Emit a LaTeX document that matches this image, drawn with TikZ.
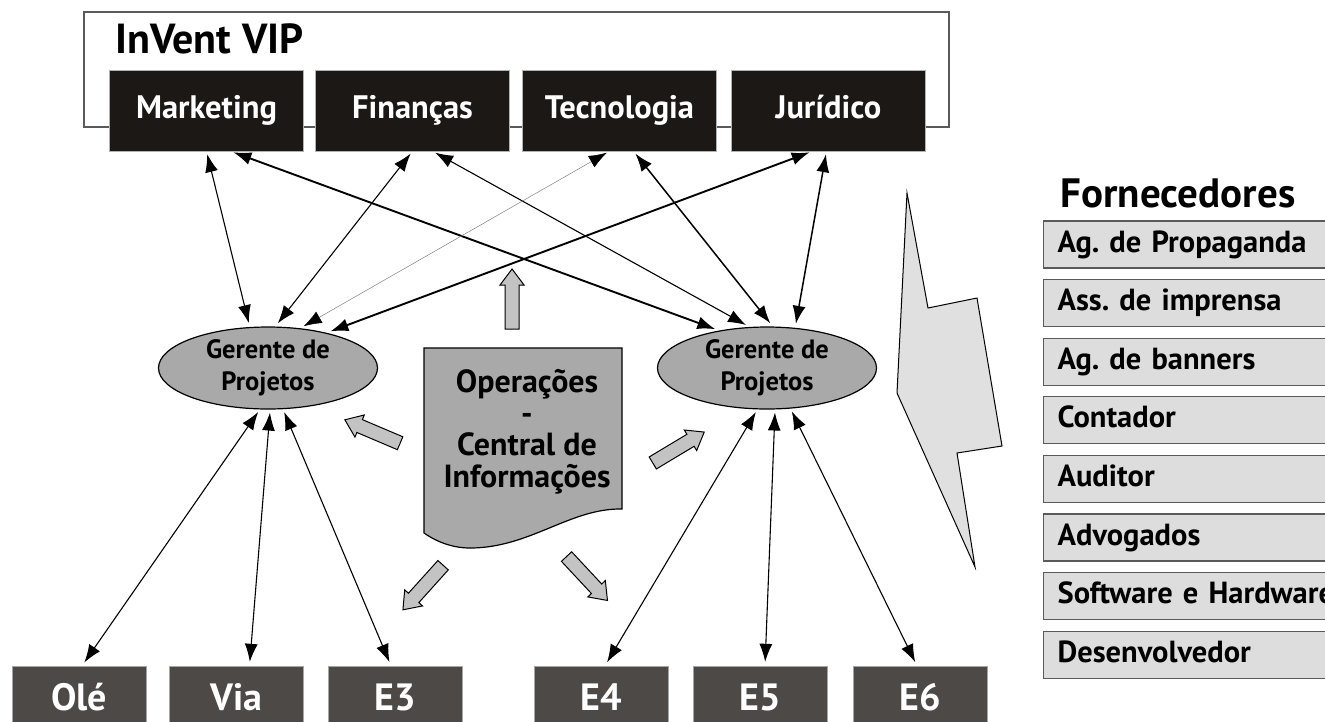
\documentclass[tikz,border=0pt]{standalone}
\usepackage{fontspec}
\setmainfont{PT Sans}
\usetikzlibrary{arrows.meta,positioning,calc,shapes.geometric}

\definecolor{areablack}{HTML}{1C1816}
\definecolor{empdark}{HTML}{4D4947}
\definecolor{gergray}{HTML}{A9A9A9}
\definecolor{blkgray}{HTML}{C3C3C3}
\definecolor{boltgray}{HTML}{E0E0E0}
\definecolor{supgray}{HTML}{DDDDDD}
\definecolor{edgegray}{HTML}{5A5A5A}

\newcommand{\fsz}[2]{\fontsize{#1}{#2}\selectfont\bfseries}
\frenchspacing

\begin{document}
\begin{tikzpicture}[x=1pt,y=-1pt,>={Latex[length=18pt,width=13pt]},
  area/.style={draw=gray!60,fill=areablack,text=white,minimum width=194pt,minimum height=81pt,
    inner sep=0pt,font=\fsz{32.5}{38},text height=22pt,text depth=6pt},
  gerente/.style={ellipse,draw,line width=1.2pt,fill=gergray,minimum width=219pt,minimum height=82pt,
    inner sep=0pt,align=center,font=\fsz{26.5}{32}},
  supplier/.style={draw=edgegray,line width=1.2pt,fill=supgray,anchor=west,minimum height=47pt,
    text width=330pt,inner xsep=14pt,inner ysep=0pt,font=\fsz{30.5}{36},text height=21pt,text depth=6pt},
  emp/.style={draw=gray!70,fill=empdark,text=white,minimum width=134pt,minimum height=61pt,
    inner sep=0pt,font=\fsz{38}{44},text height=27pt,text depth=0pt},
  link/.style={<->,line width=1.1pt,shorten <=3pt,shorten >=4pt},
  linkmid/.style={link,line width=1.5pt},
  linkthick/.style={link,line width=1.9pt},
  linkfaint/.style={{Latex[length=18pt,width=13pt,black]}-{Latex[length=18pt,width=13pt,black]},
    line width=0.5pt,draw=gray,shorten <=3pt,shorten >=4pt},
  pics/blkarrow/.style={code={
    \draw[line width=1pt,fill=blkgray] (-30,-7) -- (14,-7) -- (14,-12) -- (30,0) -- (14,12) -- (14,7) -- (-30,7) -- cycle;}}]
  \useasboundingbox (0,0) rectangle (1325,721);

  % InVent VIP
  \draw[edgegray,line width=1.2pt] (84,12) rectangle (949,127);
  \node[anchor=base west,font=\fsz{42}{48}] (title) at (112,53) {InVent VIP};
  \node[area] (mkt) at (206.5,110.5) {Marketing};
  \node[area] (fin) at (412.5,110.5) {Finanças};
  \node[area] (tec) at (619.5,110.5) {Tecnologia};
  \node[area] (jur) at (828.5,110.5) {Jurídico};

  % gerentes
  \node[gerente] (gl) at (268,368) {Gerente de\\Projetos};
  \node[gerente] (gr) at (767,368) {Gerente de\\Projetos};

  % operacoes
  \draw[line width=1.2pt,fill=gergray] (424,348) -- (622,348) -- (622,509)
    .. controls (570,508) and (530,548) .. (470,548)
    .. controls (450,548) and (434,540) .. (424,533) -- cycle;
  \node[align=center,font=\fsz{32}{31.5}] (ops) at (527,432) {Operações\\-\\Central de\\Informações};

  \pic[rotate=90] at (512,299) {blkarrow};
  \pic[rotate=157] at (372.5,431.5) {blkarrow};
  \pic[rotate=31] at (678.5,447.5) {blkarrow};
  \pic[rotate=228] at (423,587.5) {blkarrow};
  \pic[rotate=313] at (587,578.5) {blkarrow};

  % raio
  \draw[fill=boltgray,line width=1pt] (907,193) -- (928,308) -- (977,298) -- (1002,446)
    -- (957,453) -- (975,567) -- (897,393) -- cycle;

  % fornecedores
  \node[anchor=base west,font=\fsz{41}{48}] (forn) at (1057,207) {Fornecedores};
  \foreach \lab [count=\i from 0] in {Ag. de Propaganda,Ass. de imprensa,Ag. de banners,Contador,
      Auditor,Advogados,Software e Hardware,Desenvolvedor}
    \node[supplier] (s\i) at (1043,{244.5+58.6*\i}) {\lab};

  % empresas
  \foreach \lab/\x [count=\i] in {Olé/79,Via/236.5,E3/395,E4/601,E5/760,E6/920}
    \node[emp] (emp\i) at (\x,696.5) {\lab};

  % ligacoes
  \draw[link] (mkt.south) -- (gl.114);
  \draw[linkthick] ([xshift=24pt]mkt.south) -- (gr.142);
  \draw[link] (fin.south) -- (gl.80);
  \draw[link] ([xshift=20pt]fin.south) -- (gr.113);
  \draw[linkfaint] ([xshift=-10pt]tec.south) -- (gl.51);
  \draw[linkmid] ([xshift=14pt]tec.south) -- (gr.82);
  \draw[linkthick] ([xshift=-16pt]jur.south) -- (gl.31.5);
  \draw[linkmid] ([xshift=-2pt]jur.south) -- (gr.55);

  \draw[link] (gl.259) -- ([xshift=3pt]emp1.north);
  \draw[link] (gl.273) -- ([xshift=13pt]emp2.north);
  \draw[link] (gl.290) -- ([xshift=-4pt]emp3.north);
  \draw[link] (gr.257) -- ([xshift=4pt]emp4.north);
  \draw[link] (gr.281) -- ([xshift=5pt]emp5.north);
  \draw[link] (gr.300) -- ([xshift=-3pt]emp6.north);
\end{tikzpicture}
\end{document}
